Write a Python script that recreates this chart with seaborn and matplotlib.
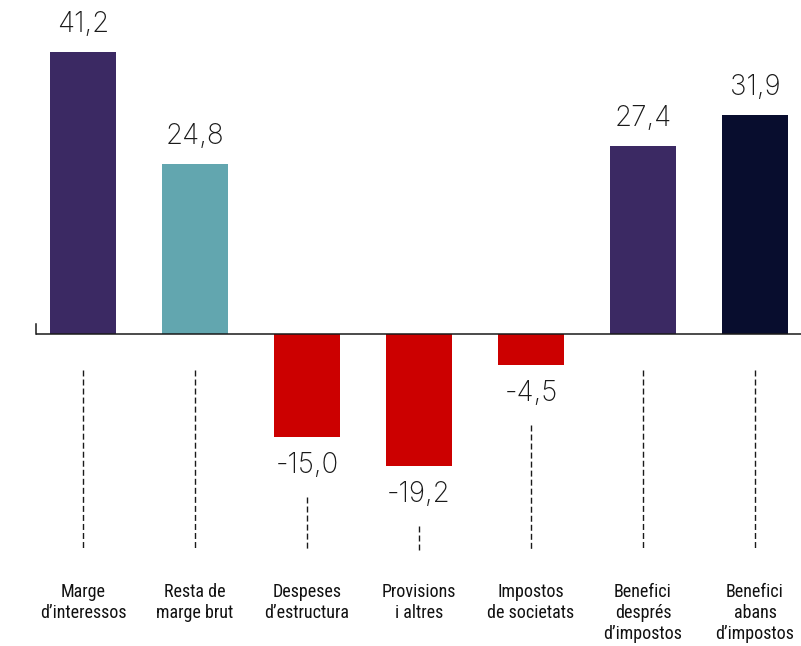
"""Resultats: marges, despeses i beneficis (barres amb valors)."""
import matplotlib.pyplot as plt
import pandas as pd
import seaborn as sns

categories = [
    "Marge\nd\u2019interessos",
    "Resta de\nmarge brut",
    "Despeses\nd\u2019estructura",
    "Provisions\ni altres",
    "Impostos\nde societats",
    "Benefici\ndesprés\nd\u2019impostos",
    "Benefici\nabans\nd\u2019impostos",
]
values = [41.2, 24.8, -15.0, -19.2, -4.5, 27.4, 31.9]
bar_colors = ["#3b2963", "#62a6af", "#cc0000", "#cc0000", "#cc0000", "#3b2963", "#080d2e"]

W, H = 801, 646
PX_PER_UNIT = 6.85   # vertical scale, pixels per unit
ZERO_PX = 334        # zero line, pixels from top
STEP_PX = 112        # distance between bars
FIRST_PX = 83
LEFT_PX = 36

sns.set_theme(style="white")
plt.rcParams["font.family"] = ["Roboto Condensed", "Liberation Sans", "DejaVu Sans"]

fig = plt.figure(figsize=(W / 100, H / 100), dpi=100)
ax = fig.add_axes([LEFT_PX / W, 0, 1 - LEFT_PX / W, 1])

df = pd.DataFrame({"cat": categories, "val": values})
sns.barplot(data=df, x="cat", y="val", hue="cat", palette=bar_colors,
            legend=False, width=0.59, saturation=1, linewidth=0, ax=ax)

x_left = -(FIRST_PX - LEFT_PX) / STEP_PX
ax.set_xlim(x_left, x_left + (W - LEFT_PX) / STEP_PX)
ax.set_ylim(-(H - ZERO_PX) / PX_PER_UNIT, ZERO_PX / PX_PER_UNIT)

def px(n):
    return n / PX_PER_UNIT

ax.axhline(0, color="#1a1a1a", lw=1.1, zorder=3)

value_font = dict(fontsize=20, family=["Inter", "DejaVu Sans"], fontweight="light", color="#1a1a1a")
dash_end = -px(550 - ZERO_PX)
for i, v in enumerate(values):
    lbl = f"{v:.1f}".replace(".", ",")
    if v >= 0:
        ax.text(i, v + px(20), lbl, ha="center", va="baseline", **value_font)
        start = -px(36)
    else:
        ax.text(i, v - px(15), lbl, ha="center", va="top", **value_font)
        start = v - px(60)
    ax.plot([i, i], [start, dash_end], color="#1a1a1a", lw=1.0,
            linestyle=(0, (4.3, 2.2)))
    ax.text(i, -px(583 - ZERO_PX), categories[i], ha="center", va="top",
            fontsize=13, color="#111111", linespacing=1.2)

for s in ["top", "right", "bottom"]:
    ax.spines[s].set_visible(False)
ax.spines["left"].set_bounds(0, px(10))
ax.spines["left"].set_color("#1a1a1a")
ax.spines["left"].set_linewidth(1.1)
ax.set_xticks([])
ax.set_yticks([])
ax.set_xlabel("")
ax.set_ylabel("")

fig.savefig("out.png", dpi=100)
